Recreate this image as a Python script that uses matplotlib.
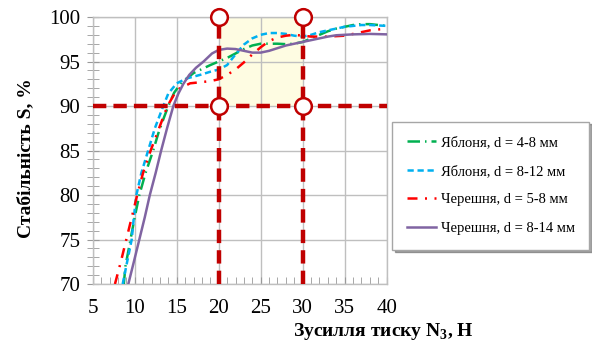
import matplotlib
matplotlib.use("Agg")
import matplotlib.pyplot as plt
from matplotlib.patches import Rectangle

plt.rcParams['font.family'] = ['Liberation Serif', 'DejaVu Serif']
plt.rcParams['mathtext.fontset'] = 'custom'
plt.rcParams['mathtext.rm'] = 'Liberation Serif'
plt.rcParams['mathtext.bf'] = 'Liberation Serif:bold'

# ---- data ----
apple48_x = [8.7, 8.9, 9.5, 10.0, 10.55, 11.3, 12.2, 12.8, 13.4, 14.0, 14.7, 15.5, 17.0, 19.0, 20, 21, 22, 23, 24, 25,
             26, 27, 28, 29, 30, 31, 32, 33, 34, 35, 36, 37, 38, 39, 40]
apple48_y = [70, 72, 75, 77.5, 80, 82.5, 85, 86.9, 88.5, 90, 91.5, 92.55, 93.7, 94.6, 95.0, 95.4, 95.9, 96.4, 96.8, 97.0,
             97.0, 97.0, 96.95, 97.0, 97.2, 97.6, 98.0, 98.4, 98.7, 98.9, 99.1, 99.2, 99.2, 99.1, 99.0]

apple812_x = [8.57, 9.1, 9.64, 9.9, 10.2, 10.8, 11.6, 12.4, 13.4, 14.0, 15.0, 16.2, 17.8, 19.0, 20, 21, 22, 23, 24,
              25, 26, 27, 28, 29, 30, 31, 32, 33, 34, 35, 36, 37, 38, 39, 40]
apple812_y = [70, 72.5, 75, 77.5, 80, 82.5, 85, 87.5, 90, 91.4, 92.55, 93.1, 93.5, 93.85, 94.1, 94.6, 95.8, 96.9, 97.6,
              98.0, 98.2, 98.2, 98.1, 97.9, 97.8, 98.0, 98.3, 98.5, 98.7, 98.9, 99.0, 99.1, 99.1, 99.05, 99.0]

cherry58_x = [7.65, 8.35, 9.0, 9.65, 10.3, 11.0, 11.9, 12.9, 13.9, 15.0, 16.6, 18.1, 19, 20, 21, 22, 23, 24, 25,
              26, 27, 28, 29, 30, 31, 32, 33, 34, 35, 36, 37, 38, 39, 40]
cherry58_y = [70, 72.5, 75, 77.5, 80, 82.5, 85, 87.5, 90, 91.8, 92.55, 92.7, 92.8, 93.0, 93.5, 94.1, 94.9, 95.8, 96.6,
              97.3, 97.7, 97.9, 98.0, 97.9, 97.8, 97.8, 97.8, 97.85, 97.9, 98.1, 98.3, 98.5, 98.6, 98.7]

cherry814_x = [9.24, 9.9, 10.55, 11.2, 11.8, 12.5, 13.15, 13.85, 14.6, 15.2, 15.8, 16.5, 17.3, 18.2, 19.2, 20, 21, 22, 23, 24, 25,
               26, 27, 28, 29, 30, 31, 32, 33, 34, 35, 36, 38, 40]
cherry814_y = [70, 72.5, 75, 77.5, 80, 82.5, 85, 87.5, 90, 91.4, 92.5, 93.5, 94.3, 95.0, 95.9, 96.3, 96.45, 96.4, 96.2, 96.0, 96.0,
               96.2, 96.5, 96.8, 97.0, 97.2, 97.4, 97.6, 97.8, 97.95, 98.0, 98.05, 98.1, 98.05]

labels = ['Яблоня, d = 4-8 мм', 'Яблоня, d = 8-12 мм', 'Черешня, d = 5-8 мм', 'Черешня, d = 8-14 мм']

guide_x = [20, 30]
guide_y = [90, 100]
x_ticks = [5, 10, 15, 20, 25, 30, 35, 40]
y_ticks = [70, 75, 80, 85, 90, 95, 100]

# ---- figure ----
fig = plt.figure(figsize=(5.92, 3.45), dpi=100)
ax = fig.add_axes([0.1566, 0.1768, 0.4966, 0.7739])
ax.set_xlim(5, 40)
ax.set_ylim(70, 100)

ax.add_patch(Rectangle((guide_x[0], guide_y[0]), guide_x[1] - guide_x[0], guide_y[1] - guide_y[0],
                       facecolor='#FEFCE2', edgecolor='none', zorder=0.5))

ax.grid(True, which='major', color='#BFBFBF', linewidth=1.0, zorder=0.6)
ax.set_axisbelow(True)

lw = 1.8
ax.plot(apple48_x, apple48_y, color='#00B050', lw=lw, linestyle=(0, (5, 2, 0.6, 2)), label=labels[0], zorder=3)
ax.plot(apple812_x, apple812_y, color='#00B0F0', lw=lw, linestyle=(0, (2.5, 1.5)), label=labels[1], zorder=3)
ax.plot(cherry58_x, cherry58_y, color='#FF0000', lw=lw, linestyle=(0, (4, 3, 0.8, 3)), label=labels[2], zorder=3)
ax.plot(cherry814_x, cherry814_y, color='#8064A2', lw=lw, linestyle='-', label=labels[3], zorder=3)

gcol = '#C00000'
ax.plot([5, 40], [guide_y[0], guide_y[0]], color=gcol, lw=3.2, linestyle=(0, (3, 1.6)), zorder=4)
for gx in guide_x:
    ax.plot([gx, gx], [70, 100], color=gcol, lw=3.2, linestyle=(0, (3, 1.6)), zorder=4)
for gx in guide_x:
    for gy in guide_y:
        ax.plot([gx], [gy], marker='o', markersize=12, markerfacecolor='white',
                markeredgecolor=gcol, markeredgewidth=1.8, zorder=5, clip_on=False)

ax.set_xticks(x_ticks)
ax.set_yticks(y_ticks)
ax.set_xticks(range(5, 41), minor=True)
ax.set_yticks(range(70, 101), minor=True)
ax.tick_params(axis='x', which='both', direction='in', length=5, color='#999999', labelsize=15, pad=11)
ax.tick_params(axis='y', which='both', direction='inout', length=8, color='#999999', labelsize=15, pad=5)
for s in ax.spines.values():
    s.set_color('#BFBFBF')
    s.set_linewidth(1.0)

fig.text(383 / 592, 0.038, r'Зусилля тиску N$_{\mathbf{3}}$, Н', ha='center', va='center',
         fontsize=14, fontweight='bold')
fig.text(0.043, 0.542, 'Стабільність S, %', ha='center', va='center', rotation=90,
         fontsize=14, fontweight='bold')

leg = ax.legend(loc='center', bbox_to_anchor=(0.829, 0.462), bbox_transform=fig.transFigure,
                fontsize=10.5, frameon=True, fancybox=False, shadow=True, handlelength=2.0,
                labelspacing=1.05, borderpad=1.0, handletextpad=0.3, borderaxespad=0)
leg.get_frame().set_edgecolor('#A6A6A6')
leg.get_frame().set_linewidth(1.0)

fig.savefig('out.png', dpi=100)
